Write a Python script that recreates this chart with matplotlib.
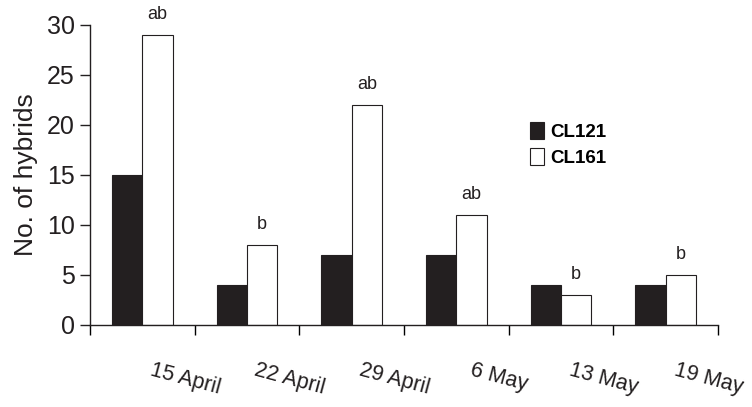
import numpy as np
import matplotlib.pyplot as plt
from matplotlib.transforms import ScaledTranslation

dates = ['15 April', '22 April', '29 April', '6 May', '13 May', '19 May']
cl121 = [15, 4, 7, 7, 4, 4]
cl161 = [29, 8, 22, 11, 3, 5]
letters = ['ab', 'b', 'ab', 'ab', 'b', 'b']

plt.rcParams['font.family'] = ['Liberation Sans', 'DejaVu Sans']

fig = plt.figure(figsize=(7.52, 4.07), dpi=100)
ax = fig.add_axes([0.1197, 0.2015, 0.835, 0.7371])

x = np.arange(len(dates))
w = 0.29
ax.bar(x - w / 2, cl121, w, color='#231f20', edgecolor='#231f20', linewidth=0.8, label='CL121')
ax.bar(x + w / 2, cl161, w, color='white', edgecolor='#231f20', linewidth=0.8, label='CL161')

for xi, v, t in zip(x, cl161, letters):
    ax.text(xi + w / 2, v + 1.2, t, ha='center', va='bottom', fontsize=13, color='#231f20')

ax.set_xlim(-0.5, len(dates) - 0.5)
ax.set_ylim(0, 30)
ax.set_yticks(range(0, 31, 5))
ax.tick_params(axis='y', labelsize=18, length=7, width=1, direction='out',
               colors='#231f20', pad=4)
ax.set_ylabel('No. of hybrids', fontsize=19, color='#231f20', labelpad=6)

# boundaries as ticks, dates as rotated labels between them
ax.set_xticks(np.arange(-0.5, len(dates), 1.0))
ax.set_xticklabels([])
ax.tick_params(axis='x', which='major', length=7, width=1, direction='out')
ax.set_xticks(x, minor=True)
ax.set_xticklabels(dates, minor=True, rotation=-15, fontsize=15.5, ha='center', color='#231f20')
ax.tick_params(axis='x', which='minor', length=0, pad=25)
off = ScaledTranslation(0.43, 0, fig.dpi_scale_trans)
for lab in ax.get_xticklabels(minor=True):
    lab.set_transform(lab.get_transform() + off)

for s in ['top', 'right']:
    ax.spines[s].set_visible(False)
for s in ['left', 'bottom']:
    ax.spines[s].set_linewidth(1)
    ax.spines[s].set_color('#231f20')

ax.legend(loc='upper left', bbox_to_anchor=(0.674, 0.733), frameon=False,
          prop={'weight': 'bold', 'size': 13.5}, handlelength=0.75, handleheight=1.0,
          handletextpad=0.35, labelspacing=0.4)

fig.savefig('out.png', dpi=100)
